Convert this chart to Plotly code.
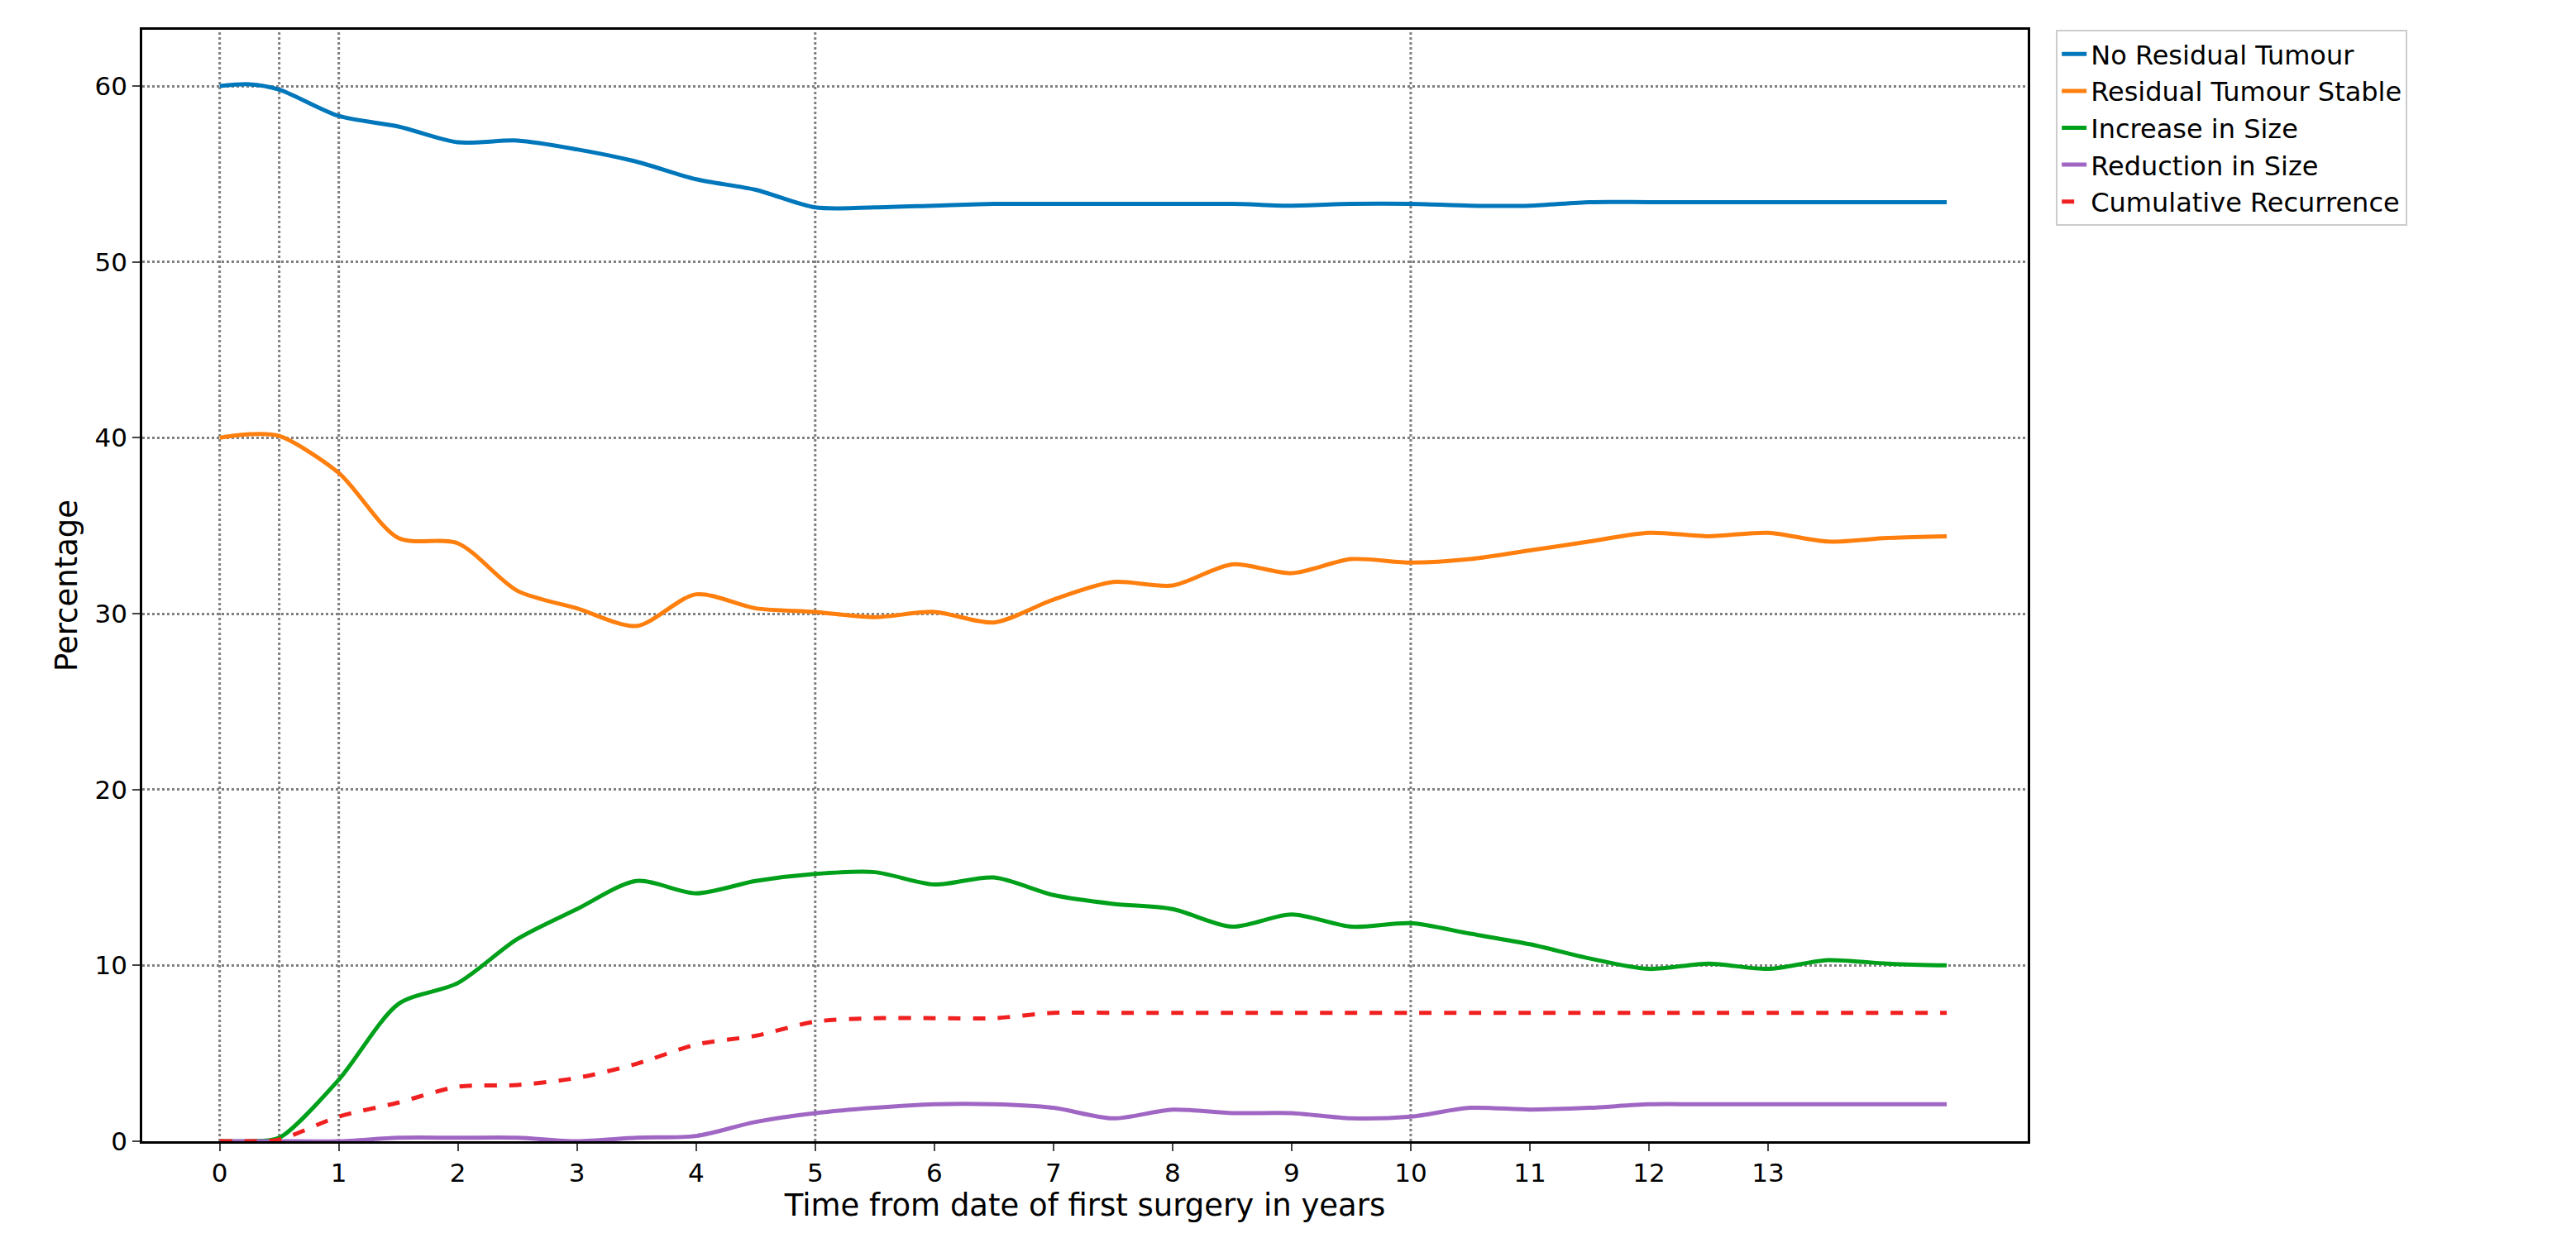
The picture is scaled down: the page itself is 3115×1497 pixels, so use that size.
import plotly.graph_objects as go

t = [0, 0.25, 0.5, 1, 1.5, 2, 2.5, 3, 3.5, 4, 4.5, 5, 5.5, 6, 6.5, 7, 7.5, 8, 8.5, 9, 9.5, 10, 10.5, 11, 11.5, 12, 12.5, 13, 13.5, 14, 14.5]
no_residual = [60, 60.1, 59.8, 58.3, 57.7, 56.8, 56.9, 56.4, 55.7, 54.7, 54.1, 53.1, 53.1, 53.2, 53.3, 53.3, 53.3, 53.3, 53.3, 53.2, 53.3, 53.3, 53.2, 53.2, 53.4, 53.4, 53.4, 53.4, 53.4, 53.4, 53.4]
stable = [40, 40.2, 40.1, 38.0, 34.3, 34.0, 31.3, 30.3, 29.3, 31.1, 30.3, 30.1, 29.8, 30.1, 29.5, 30.8, 31.8, 31.6, 32.8, 32.3, 33.1, 32.9, 33.1, 33.6, 34.1, 34.6, 34.4, 34.6, 34.1, 34.3, 34.4]
increase = [0, 0, 0.2, 3.5, 7.8, 9.0, 11.5, 13.2, 14.8, 14.1, 14.8, 15.2, 15.3, 14.6, 15.0, 14.0, 13.5, 13.2, 12.2, 12.9, 12.2, 12.4, 11.8, 11.2, 10.4, 9.8, 10.1, 9.8, 10.3, 10.1, 10.0]
reduction = [0, 0, 0, 0, 0.2, 0.2, 0.2, 0, 0.2, 0.3, 1.1, 1.6, 1.9, 2.1, 2.1, 1.9, 1.3, 1.8, 1.6, 1.6, 1.3, 1.4, 1.9, 1.8, 1.9, 2.1, 2.1, 2.1, 2.1, 2.1, 2.1]
recurrence = [0, 0, 0.1, 1.4, 2.2, 3.1, 3.2, 3.6, 4.4, 5.5, 6.0, 6.8, 7.0, 7.0, 7.0, 7.3, 7.3, 7.3, 7.3, 7.3, 7.3, 7.3, 7.3, 7.3, 7.3, 7.3, 7.3, 7.3, 7.3, 7.3, 7.3]
x_ticks = list(range(14))
vlines = [0, 0.5, 1, 5, 10]

series = [
    ("No Residual Tumour", no_residual, "#0077bb", "solid"),
    ("Residual Tumour Stable", stable, "#ff7f0e", "solid"),
    ("Increase in Size", increase, "#00a01a", "solid"),
    ("Reduction in Size", reduction, "#a066c4", "solid"),
    ("Cumulative Recurrence", recurrence, "#f02020", "dash"),
]

fig = go.Figure()
for name, y, c, d in series:
    fig.add_trace(go.Scatter(x=t, y=y, name=name, mode="lines",
                             line=dict(color=c, width=5, dash=d, shape="spline", smoothing=0.8)))
for v in vlines:
    fig.add_vline(x=v, line=dict(color="#808080", width=3, dash="dot"), layer="below")

fig.update_layout(
    width=3115, height=1497, paper_bgcolor="white", plot_bgcolor="white",
    margin=dict(l=164, r=671, t=28, b=125),
    font=dict(family="DejaVu Sans", size=31, color="black"),
    legend=dict(x=1.015, y=1, xanchor="left", yanchor="top", bordercolor="#cccccc",
                borderwidth=2, font=dict(size=32), tracegroupgap=6),
)
fig.update_xaxes(range=[-0.65, 15.18], tickvals=x_ticks, showgrid=False, showline=True,
                 linecolor="black", linewidth=2.5, mirror=True, ticks="outside", ticklen=9,
                 tickwidth=2, title=dict(text="Time from date of first surgery in years", standoff=10),
                 zeroline=False)
fig.update_yaxes(range=[0, 63.2], tickvals=[0, 10, 20, 30, 40, 50, 60], showgrid=True,
                 gridcolor="#808080", griddash="dot", gridwidth=3, showline=True,
                 linecolor="black", linewidth=2.5, mirror=True, ticks="outside", ticklen=9,
                 tickwidth=2, title=dict(text="Percentage", standoff=10), zeroline=False)

fig.write_html("out.html")
